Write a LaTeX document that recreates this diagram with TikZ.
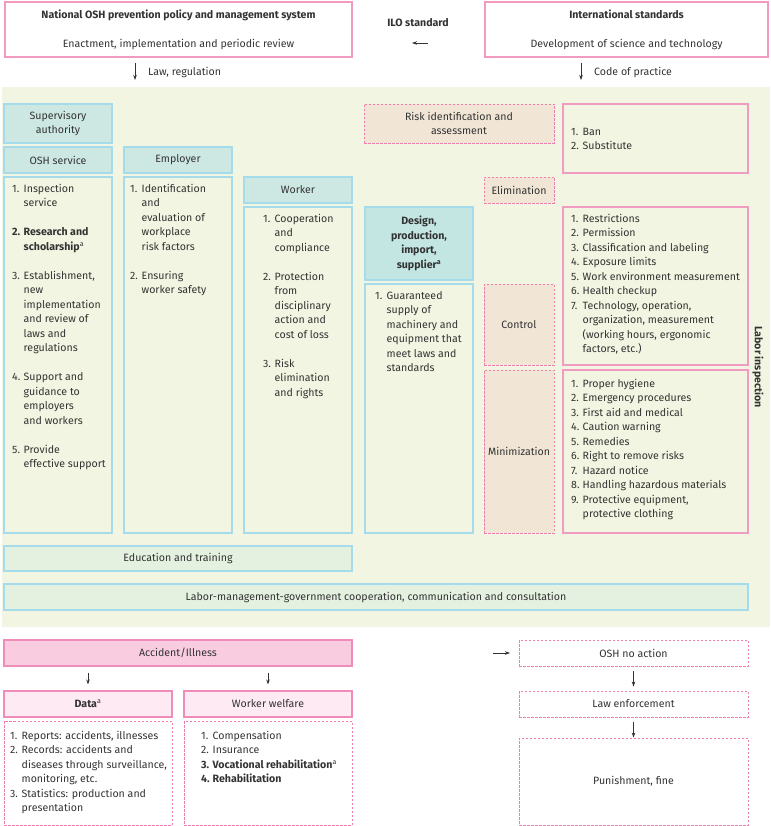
\documentclass[tikz,border=0pt]{standalone}
\usepackage{fontspec}
\setmainfont{Fira Sans}
\usetikzlibrary{arrows.meta}
\definecolor{bgc}{HTML}{F2F5E1}
\definecolor{blueb}{HTML}{A5DCEB}
\definecolor{tealf}{HTML}{CDE8E2}
\definecolor{tealg}{HTML}{C3E6E3}
\definecolor{greenf}{HTML}{E4F0E0}
\definecolor{pinkb}{HTML}{F29BC1}
\definecolor{pinkd}{HTML}{F07FB0}
\definecolor{beigef}{HTML}{F1E6D6}
\definecolor{accf}{HTML}{F9CCE0}
\definecolor{accb}{HTML}{F08CB9}
\definecolor{lpink}{HTML}{FDEAF2}
\definecolor{txt}{HTML}{333333}
\newcommand\num[1]{\makebox[11.5pt][l]{#1}}
\newcommand\ind{\hspace*{11.5pt}}
\newcommand\supa{\textsuperscript{\scriptsize a}}
\tikzset{
  every node/.style={text=txt, font=\fontsize{10.6}{14.5}\selectfont, inner sep=0pt},
  box/.style={draw, line width=1.1pt, minimum width=#1},
  box/.default=108,
  bluebox/.style={box=#1, draw=blueb},
  bluebox/.default=108,
  headbox/.style={bluebox=#1, fill=tealf, align=center},
  headbox/.default=108,
  pinkbox/.style={box=#1, draw=pinkb},
  pinkbox/.default=185,
  dbox/.style={draw=pinkd, line width=0.9pt, dash pattern=on 2.5pt off 1.5pt, minimum width=#1},
  dbox/.default=70,
  listtxt/.style={anchor=north west, align=left},
  arr/.style={-{Stealth[length=5pt,width=3.5pt]}, line width=0.7pt, draw=txt},
}
\begin{document}
\begin{tikzpicture}[x=1pt,y=-1pt]
\useasboundingbox (0,0) rectangle (770,826);
% top boxes
\node[pinkbox=347, minimum height=55, align=center] (nat) at (178.5,29.5)
  {\textbf{National OSH prevention policy and management system}\\[14.5pt]Enactment, implementation and periodic review};
\node[pinkbox=283, minimum height=55, align=center] (intl) at (626.5,29.5)
  {\textbf{International standards}\\[14.5pt]Development of science and technology};
\node[font=\fontsize{10.6}{14.5}\selectfont\bfseries] (ilo) at (418,23) {ILO standard};
\coordinate (iloA) at (428,43);
\coordinate (iloB) at (412,43);
\draw[arr] (iloA) -- (iloB);
\coordinate (lawA) at (135,63);
\coordinate (lawB) at (135,80);
\draw[arr] (lawA) -- (lawB);
\node[anchor=west] (lawlbl) at (148,72) {Law, regulation};
\coordinate (copA) at (581,63);
\coordinate (copB) at (581,80);
\draw[arr] (copA) -- (copB);
\node[anchor=west] (coplbl) at (594,72) {Code of practice};
% background
\fill[bgc] (2,87) rectangle (770,627);
% left columns
\node[headbox, minimum height=39] (sup) at (58,123.5) {Supervisory\\authority};
\node[headbox, minimum height=26] (osh) at (58,160) {OSH service};
\node[headbox, minimum height=26] (emp) at (178,160) {Employer};
\node[headbox, minimum height=26] (wrk) at (298,190) {Worker};
\node[bluebox, minimum height=356] (oshL) at (58,355) {};
\node[bluebox, minimum height=356] (empL) at (178,355) {};
\node[bluebox, minimum height=326] (wrkL) at (298,370) {};
\node[listtxt] (oshT) at (12,184) {\num{1.}Inspection\\\ind service\\[14.5pt]
  \textbf{\num{2.}Research and}\\\ind\textbf{scholarship}\supa\\[14.5pt]
  \num{3.}Establishment,\\\ind new\\\ind implementation\\\ind and review of\\\ind laws and\\\ind regulations\\[14.5pt]
  \num{4.}Support and\\\ind guidance to\\\ind employers\\\ind and workers\\[14.5pt]
  \num{5.}Provide\\\ind effective support};
\node[listtxt] (empT) at (130,184) {\num{1.}Identification\\\ind and\\\ind evaluation of\\\ind workplace\\\ind risk factors\\[14.5pt]
  \num{2.}Ensuring\\\ind worker safety};
\node[listtxt] (wrkT) at (263,214) {\num{1.}Cooperation\\\ind and\\\ind compliance\\[14.5pt]
  \num{2.}Protection\\\ind from\\\ind disciplinary\\\ind action and\\\ind cost of loss\\[14.5pt]
  \num{3.}Risk\\\ind elimination\\\ind and rights};
\node[bluebox=348, fill=greenf, minimum height=25] (edu) at (178,558.5) {Education and training};
\node[bluebox=744, fill=greenf, minimum height=26] (lmg) at (376,597) {Labor-management-government cooperation, communication and consultation};
% right columns
\node[dbox=190, fill=beigef, minimum height=39, align=center] (risk) at (459,123.5) {Risk identification and\\assessment};
\node[pinkbox, minimum height=69] (ban) at (655.5,138.5) {};
\node[listtxt] (banT) at (571,127.5) {\num{1.}Ban\\\num{2.}Substitute};
\node[dbox, fill=beigef, minimum height=26] (elim) at (519,190) {Elimination};
\node[headbox, fill=tealg, minimum height=73, font=\fontsize{10.6}{14.5}\selectfont\bfseries] (des) at (419,243.5) {Design,\\production,\\import,\\supplier\supa};
\node[bluebox, minimum height=249] (desL) at (419,408.5) {};
\node[listtxt] (desT) at (375,291) {\num{1.}Guaranteed\\\ind supply of\\\ind machinery and\\\ind equipment that\\\ind meet laws and\\\ind standards};
\node[dbox, fill=beigef, minimum height=81] (ctrl) at (519,324.5) {Control};
\node[dbox, fill=beigef, minimum height=163] (mini) at (519,451.5) {Minimization};
\node[pinkbox, minimum height=158] (restr) at (655.5,286) {};
\node[listtxt] (restrT) at (571,214) {\num{1.}Restrictions\\\num{2.}Permission\\\num{3.}Classification and labeling\\\num{4.}Exposure limits\\\num{5.}Work environment measurement\\\num{6.}Health checkup\\\num{7.}Technology, operation,\\\ind organization, measurement\\\ind (working hours, ergonomic\\\ind factors, etc.)};
\node[pinkbox, minimum height=163] (hyg) at (655.5,451.5) {};
\node[listtxt] (hygT) at (571,379) {\num{1.}Proper hygiene\\\num{2.}Emergency procedures\\\num{3.}First aid and medical\\\num{4.}Caution warning\\\num{5.}Remedies\\\num{6.}Right to remove risks\\\num{7.}Hazard notice\\\num{8.}Handling hazardous materials\\\num{9.}Protective equipment,\\\ind protective clothing};
\node[rotate=-90, font=\fontsize{10.6}{14.5}\selectfont\bfseries] (labinsp) at (758,367) {Labor inspection};
% bottom left
\node[box=348, draw=accb, fill=accf, minimum height=26] (acc) at (178,653) {Accident/Illness};
\node[box=168, draw=accb, fill=lpink, minimum height=26] (data) at (88,704) {\textbf{Data}\supa};
\node[box=168, draw=accb, fill=lpink, minimum height=26] (wel) at (268,704) {Worker welfare};
\node[dbox=168, minimum height=104] (dataL) at (88,773) {};
\node[dbox=168, minimum height=104] (welL) at (268,773) {};
\node[listtxt] (dataT) at (10,731) {\num{1.}Reports: accidents, illnesses\\\num{2.}Records: accidents and\\\ind diseases through surveillance,\\\ind monitoring, etc.\\\num{3.}Statistics: production and\\\ind presentation};
\node[listtxt] (welT) at (201,731) {\num{1.}Compensation\\\num{2.}Insurance\\\textbf{\num{3.}Vocational rehabilitation}\supa\\\textbf{\num{4.}Rehabilitation}};
\draw[arr, shorten <=6pt, shorten >=6pt] (acc.south -| data) -- (data.north);
\draw[arr, shorten <=6pt, shorten >=6pt] (acc.south -| wel) -- (wel.north);
% bottom right
\node[dbox=229, minimum height=26] (noact) at (633.5,653) {OSH no action};
\node[dbox=229, minimum height=26] (lawe) at (633.5,704) {Law enforcement};
\node[dbox=229, minimum height=87] (pun) at (633.5,781.5) {Punishment, fine};
\coordinate (inA) at (493,653);
\draw[arr] (inA) -- ++(17,0) coordinate (inB);
\draw[arr, shorten <=5pt, shorten >=4pt] (noact) -- (lawe);
\draw[arr, shorten <=5pt] (lawe) -- (pun);
\end{tikzpicture}
\end{document}
